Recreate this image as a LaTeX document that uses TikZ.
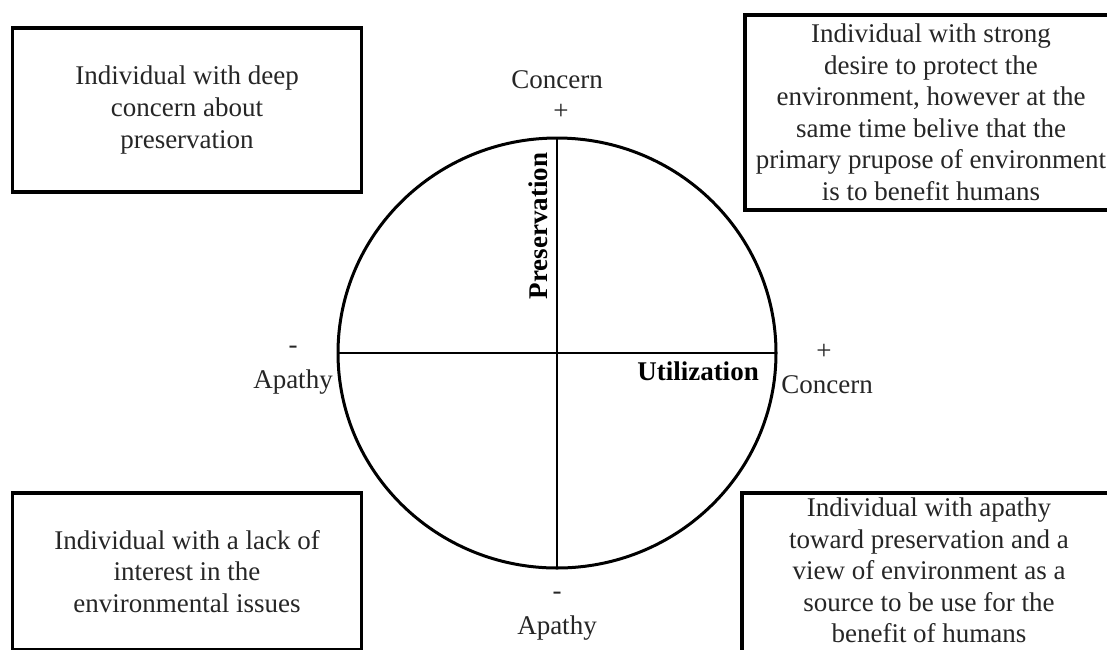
\documentclass[tikz,border=0pt]{standalone}
\usepackage{fontspec}
\setmainfont{Liberation Serif}
\usetikzlibrary{shapes.geometric}
\tikzset{
  casebox/.style={draw=black, line width=3.8pt, align=center, inner sep=0pt, outer sep=0pt,
    text=black!85, font=\fontsize{27}{31.5}\selectfont},
  poletext/.style={align=center, inner sep=0pt, text=black!85, font=\fontsize{27}{31.5}\selectfont},
  axistext/.style={inner sep=0pt, font=\fontsize{27}{31.5}\selectfont\bfseries},
  axisline/.style={line width=1.6pt}
}
\begin{document}
\begin{tikzpicture}[x=1pt,y=-1pt]
  \useasboundingbox[fill=white] (0,0) rectangle (1107,649);

  \node[casebox, minimum width=349, minimum height=164] (TL) at (187, 110)
    {Individual with deep\\concern about\\preservation};
  \node[casebox, minimum width=372, minimum height=195] (TR) at (931, 112.5)
    {Individual with strong\\desire to protect the\\environment, however at the\\same time belive that the\\primary prupose of environment\\is to benefit humans};
  \node[casebox, minimum width=349, minimum height=157] (BL) at (187, 571.5)
    {Individual with a lack of\\interest in the\\environmental issues};
  \node[casebox, minimum width=374, minimum height=170] (BR) at (929, 578) {};
  \node[poletext] (BRtext) at (929, 570.5)
    {Individual with apathy\\toward preservation and a\\view of environment as a\\source to be use for the\\benefit of humans};

  \node[ellipse, draw=black, line width=3pt, minimum width=438, minimum height=430,
    inner sep=0pt, outer sep=0pt] (wheel) at (557, 353) {};
  \draw[axisline] (wheel.west) -- (wheel.east);
  \draw[axisline] (wheel.north) -- (wheel.south);

  \node[axistext, rotate=90] (pres) at (538, 226) {Preservation};
  \node[axistext] (util) at (698, 371) {Utilization};

  \node[poletext] (topC) at (557, 80) {Concern};
  \node[poletext] (topS) at (561, 112) {+};
  \node[poletext] (rightS) at (824, 352) {+};
  \node[poletext] (rightC) at (827, 385) {Concern};
  \node[poletext] (leftS) at (293, 350) {-};
  \node[poletext] (leftA) at (293, 382) {Apathy};
  \node[poletext] (botS) at (557, 596) {-};
  \node[poletext] (botA) at (557, 628) {Apathy};
\end{tikzpicture}
\end{document}
